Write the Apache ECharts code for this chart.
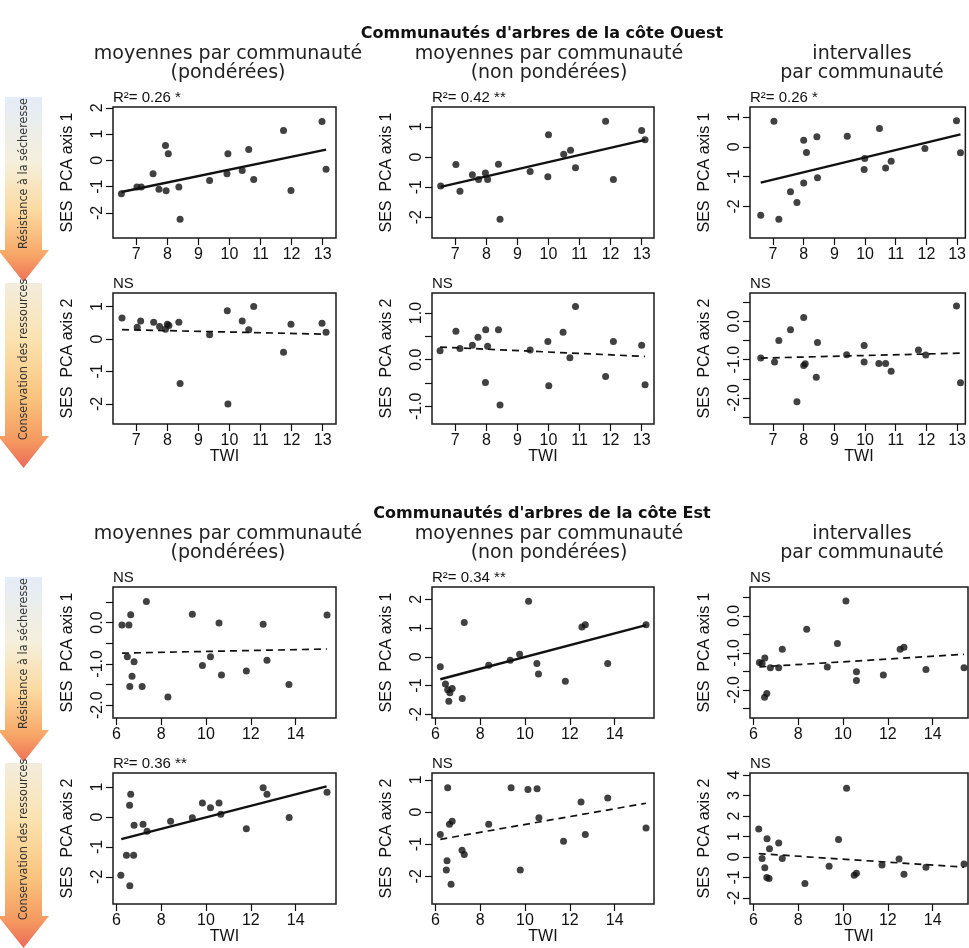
<!DOCTYPE html>
<html><head><meta charset="utf-8">
<script src="https://cdn.jsdelivr.net/npm/echarts@6/dist/echarts.min.js"></script>
<style>html,body{margin:0;padding:0;background:#fff}#c{width:969px;height:948px}</style>
</head><body><div id="c"></div><script>
// ---------- DATA ----------
const westTicksX = [7, 8, 9, 10, 11, 12, 13];
const eastTicksX = [6, 8, 10, 12, 14];

// West coast, axis 1
const w1 = [[6.52,-1.27],[7.02,-1.01],[7.16,-1.01],[7.54,-0.51],[7.73,-1.10],[7.94,0.57],[7.96,-1.15],[8.03,0.25],[8.37,-1.01],[8.41,-2.24],[9.36,-0.76],[9.95,0.25],[9.92,-0.51],[10.41,-0.38],[10.62,0.41],[10.78,-0.73],[11.74,1.14],[11.98,-1.14],[12.98,1.48],[13.11,-0.34]];
const w2 = [[6.53,-0.96],[7.02,-0.25],[7.15,-1.14],[7.55,-0.59],[7.75,-0.75],[7.97,-0.53],[8.04,-0.75],[8.39,-0.24],[8.44,-2.07],[9.41,-0.48],[10.0,0.74],[9.98,-0.66],[10.49,0.09],[10.71,0.22],[10.87,-0.36],[11.84,1.19],[12.09,-0.75],[13.0,0.88],[13.11,0.57]];
const w3 = [[6.6,-2.3],[7.03,0.86],[7.19,-2.43],[7.57,-1.51],[7.78,-1.87],[8.0,0.22],[8.09,-0.19],[8.0,-1.21],[8.43,0.34],[8.45,-1.04],[9.42,0.36],[9.99,-0.39],[9.97,-0.76],[10.47,0.62],[10.67,-0.71],[10.85,-0.48],[11.95,-0.05],[12.98,0.88],[13.11,-0.2]];
// West coast, axis 2
const w4 = [[6.54,0.65],[7.03,0.36],[7.14,0.56],[7.56,0.52],[7.75,0.39],[7.94,0.30],[8.0,0.46],[8.05,0.42],[8.37,0.52],[8.41,-1.37],[9.36,0.13],[9.93,0.87],[9.95,-2.0],[10.41,0.56],[10.62,0.29],[10.78,1.0],[11.74,-0.41],[11.98,0.46],[12.98,0.49],[13.11,0.21]];
const w5 = [[6.51,0.19],[7.02,0.61],[7.15,0.24],[7.55,0.31],[7.73,0.48],[7.98,0.64],[8.04,0.29],[8.39,0.64],[7.97,-0.49],[8.44,-0.97],[9.41,0.21],[9.98,0.39],[10.01,-0.56],[10.47,0.59],[10.69,0.04],[10.87,1.14],[11.84,-0.36],[12.09,0.39],[13.0,0.31],[13.11,-0.54]];
const w6 = [[6.6,-0.96],[7.05,-1.06],[7.19,-0.5],[7.57,-0.22],[7.78,-2.1],[8.0,0.1],[8.05,-1.11],[8.0,-1.15],[8.45,-0.55],[8.41,-1.46],[9.4,-0.87],[9.97,-0.63],[9.97,-1.06],[10.45,-1.1],[10.67,-1.1],[10.85,-1.3],[11.74,-0.75],[11.98,-0.88],[12.98,0.4],[13.11,-1.6]];
// East coast, axis 1
const e1 = [[6.25,-0.06],[6.56,-0.06],[6.64,0.19],[7.34,0.51],[6.49,-0.83],[6.79,-0.95],[6.7,-1.3],[6.6,-1.55],[7.15,-1.55],[8.3,-1.8],[9.39,0.2],[9.84,-1.04],[10.2,-0.83],[10.58,-0.01],[10.69,-1.27],[11.8,-1.17],[12.55,-0.04],[12.72,-0.91],[13.7,-1.5],[15.4,0.18]];
const e2 = [[6.22,-0.35],[7.29,1.19],[10.16,1.93],[8.38,-0.29],[9.34,-0.12],[9.76,0.09],[10.53,-0.23],[10.6,-0.6],[12.54,1.04],[12.69,1.12],[13.69,-0.23],[6.45,-0.95],[6.55,-1.15],[6.65,-1.25],[6.6,-1.55],[6.75,-1.1],[7.2,-1.45],[11.8,-0.85],[15.4,1.12]];
const e3 = [[6.27,-1.26],[6.39,-1.29],[6.51,-1.14],[6.76,-1.4],[7.13,-1.4],[7.29,-0.9],[8.38,-0.36],[9.3,-1.38],[9.75,-0.75],[10.13,0.4],[10.6,-1.51],[6.5,-2.2],[6.6,-2.1],[10.6,-1.75],[11.8,-1.6],[12.55,-0.9],[12.72,-0.85],[13.7,-1.45],[15.4,-1.4]];
// East coast, axis 2
const e4 = [[6.64,0.76],[6.59,0.39],[6.79,-0.28],[7.19,-0.24],[7.37,-0.48],[6.45,-1.28],[6.77,-1.28],[8.42,-0.14],[9.39,-0.03],[9.84,0.47],[10.2,0.31],[10.58,0.47],[10.66,0.09],[11.8,-0.39],[12.55,0.98],[12.72,0.76],[13.71,-0.02],[15.4,0.83],[6.2,-1.95],[6.6,-2.3]];
const e5 = [[6.22,-0.7],[6.55,0.75],[6.63,-0.38],[6.75,-0.29],[6.52,-1.52],[6.49,-1.8],[7.19,-1.19],[7.29,-1.32],[8.38,-0.38],[9.38,0.75],[10.13,0.7],[10.54,0.72],[10.62,-0.18],[9.79,-1.8],[11.72,-0.91],[12.5,0.31],[12.69,-0.7],[13.69,0.43],[15.4,-0.5],[6.7,-2.25]];
const e6 = [[6.24,1.37],[6.61,0.89],[6.72,0.4],[7.13,0.68],[6.39,-0.08],[6.51,-0.53],[7.29,-0.08],[10.16,3.35],[9.8,0.85],[9.38,-0.45],[11.74,-0.4],[6.6,-1.0],[6.7,-1.05],[8.3,-1.3],[10.6,-0.8],[10.5,-0.9],[12.5,-0.1],[12.72,-0.85],[13.7,-0.5],[15.4,-0.35]];

// fitted regression lines (end points)
const fits = [
  [[6.52,-1.2],[13.11,0.41]], [[6.53,-0.99],[13.11,0.57]], [[6.6,-1.2],[13.11,0.42]],
  [[6.54,0.29],[13.11,0.15]], [[6.51,0.27],[13.11,0.07]], [[6.6,-0.96],[13.11,-0.83]],
  [[6.25,-0.74],[15.4,-0.64]], [[6.22,-0.78],[15.4,1.1]], [[6.27,-1.38],[15.4,-1.04]],
  [[6.22,-0.74],[15.38,1.02]], [[6.22,-0.85],[15.4,0.27]], [[6.24,0.16],[15.4,-0.5]]
];
const sigLabels = ['R\u00b2= 0.26 *','R\u00b2= 0.42 **','R\u00b2= 0.26 *','NS','NS','NS','NS','R\u00b2= 0.34 **','NS','R\u00b2= 0.36 **','NS','NS'];

// y tick values and labelled values per panel
const yTicks = [[-2,-1,0,1,2],[-2,-1,0,1],[-2,-1,0,1],[-2,-1,0,1],[-1,-0.5,0,0.5,1],[-2.5,-2,-1.5,-1,-0.5,0,0.5],
                [-2,-1.5,-1,-0.5,0,0.5],[-2,-1,0,1,2],[-2.5,-2,-1.5,-1,-0.5,0,0.5],[-2,-1,0,1],[-2,-1,0,1],[-2,-1,0,1,2,3,4]];
const yLabels = [[-2,-1,0,1,2],[-2,-1,0,1],[-2,-1,0,1],[-2,-1,0,1],[-1,0,1],[-2,-1,0],
                 [-2,-1,0],[-2,-1,0,1,2],[-2,-1,0],[-2,-1,0,1],[-2,-1,0,1],[-2,-1,0,1,2,3,4]];
const yDecimals = [0,0,0,0,1,1,1,0,1,0,0,0];
const yLabelTexts = ['SES  PCA axis 1','SES  PCA axis 2'];
const titles = ["Communaut\u00e9s d'arbres de la c\u00f4te Ouest", "Communaut\u00e9s d'arbres de la c\u00f4te Est"];
const headers = [['moyennes par communaut\u00e9','(pond\u00e9r\u00e9es)'],['moyennes par communaut\u00e9','(non pond\u00e9r\u00e9es)'],['intervalles','par communaut\u00e9']];
const arrowTexts = ['R\u00e9sistance \u00e0 la s\u00e9cheresse','Conservation des ressources'];
const xTitle = 'TWI';

const panels = [w1,w2,w3,w4,w5,w6,e1,e2,e3,e4,e5,e6];

// ---------- LAYOUT ----------
const colLeft = [113, 432, 750];
const colWidth = [223, 222, 218];
const rowTop = [107, 293, 587, 773];
const rowH = 131;
const yRange = [[-2.95,2.03],[-2.69,1.66],[-3.06,1.34],[-2.62,1.42],[-1.38,1.43],[-2.68,0.74],
                [-2.31,0.86],[-2.13,2.43],[-2.76,0.78],[-2.91,1.47],[-2.86,1.21],[-2.3,4.1]];
const westMin = 6.25, westUnit = 223/(13.43-6.25);
const eastMin = 5.85, eastUnit = 223/(15.8-5.85);

const FONT = "'Liberation Sans', Arial, sans-serif";
const ink = '#111';
const grid = [], xAxis = [], yAxis = [], series = [], graphic = [];

for (let p = 0; p < 12; p++) {
  const r = Math.floor(p/3), c = p%3;
  const east = r >= 2;
  const left = colLeft[c], top = rowTop[r], w = colWidth[c];
  grid.push({left: left, top: top, width: w, height: rowH, show: true, borderColor: '#1a1a1a', borderWidth: 1.5, containLabel: false});
  const xmin = east ? eastMin : westMin;
  const xmax = xmin + w/(east ? eastUnit : westUnit);
  xAxis.push({type:'value', gridIndex:p, min:xmin, max:xmax, position:'bottom',
    axisLine:{show:false, onZero:false}, splitLine:{show:false},
    axisTick:{show:true, length:7, lineStyle:{color:ink, width:1.2}, customValues: east ? eastTicksX : westTicksX},
    axisLabel:{customValues: east ? eastTicksX : westTicksX, fontSize:16, fontFamily:FONT, color:ink, margin:9}
  });
  const dec = yDecimals[p];
  yAxis.push({type:'value', gridIndex:p, min:yRange[p][0], max:yRange[p][1], position:'left',
    axisLine:{show:false, onZero:false}, splitLine:{show:false},
    axisTick:{show:true, length:7, lineStyle:{color:ink, width:1.2}, customValues: yTicks[p]},
    axisLabel:{customValues: yLabels[p], rotate:90, fontSize:16, fontFamily:FONT, color:ink, margin:7,
      formatter: v => (dec ? Number(v).toFixed(1) : String(Math.round(v))).replace('\u2212','-')}
  });
  series.push({type:'scatter', xAxisIndex:p, yAxisIndex:p, data:panels[p], symbolSize:7,
    itemStyle:{color:ink}, silent:true, animation:false, z:3});
  const sig = sigLabels[p] !== 'NS';
  series.push({type:'line', xAxisIndex:p, yAxisIndex:p, data:fits[p], showSymbol:false, silent:true, animation:false,
    lineStyle:{color:ink, width: sig ? 2.4 : 1.7, type: sig ? 'solid' : [7,5]}, z:2});
  // significance label
  graphic.push({type:'text', x:left, y:top-9, style:{text:sigLabels[p], font:'15px '+FONT, fill:ink, align:'left', verticalAlign:'middle'}});
  // y axis title
  graphic.push({type:'text', x:left-45, y:top+rowH/2, rotation:Math.PI/2,
    style:{text:yLabelTexts[r%2], font:'16px '+FONT, fill:ink, align:'center', verticalAlign:'middle'}});
  // x axis title on axis-2 rows
  if (r%2 === 1) {
    graphic.push({type:'text', x:left+w/2, y:top+rowH+33, style:{text:xTitle, font:'16px '+FONT, fill:ink, align:'center', verticalAlign:'middle'}});
  }
}

// titles and column headers
const blockTop = [rowTop[0], rowTop[2]];
const headerX = [228, 549, 862];
for (let b = 0; b < 2; b++) {
  const t = blockTop[b];
  graphic.push({type:'text', x:542, y:t-73, style:{text:titles[b], font:"bold 16px 'DejaVu Sans', sans-serif", fill:ink, align:'center', verticalAlign:'middle'}});
  for (let c = 0; c < 3; c++) {
    graphic.push({type:'text', x:headerX[c], y:t-53, style:{text:headers[c][0], font:"19px 'DejaVu Sans', sans-serif", fill:'#222', align:'center', verticalAlign:'middle'}});
    graphic.push({type:'text', x:headerX[c], y:t-34, style:{text:headers[c][1], font:"19px 'DejaVu Sans', sans-serif", fill:'#222', align:'center', verticalAlign:'middle'}});
  }
}

// side arrows
for (let r = 0; r < 4; r++) {
  const t = rowTop[r] - 10, b = rowTop[r] + rowH + 12, tip = b + 32;
  const stops = (r%2 === 0)
    ? [{offset:0,color:'#e4ecf8'},{offset:0.35,color:'#f5f0dc'},{offset:0.62,color:'#fcd9a0'},{offset:0.85,color:'#f7a867'},{offset:1,color:'#ee7058'}]
    : [{offset:0,color:'#f3ecdd'},{offset:0.3,color:'#fbe3b0'},{offset:0.62,color:'#f9c47e'},{offset:0.85,color:'#f59a60'},{offset:1,color:'#ec6a58'}];
  graphic.push({type:'polygon', shape:{points:[[5,t],[42,t],[42,b],[49,b],[23.5,tip],[-2,b],[5,b]]},
    style:{fill:{type:'linear', x:0, y:0, x2:0, y2:1, colorStops:stops}, stroke:null}, z:0});
  graphic.push({type:'text', x:23.5, y:(t+b)/2, rotation:Math.PI/2,
    style:{text:arrowTexts[r%2], font:"12.5px 'Liberation Sans Narrow', 'DejaVu Sans Condensed', sans-serif", fill:'#333', align:'center', verticalAlign:'middle'}, z:1});
}

const chart = echarts.init(document.getElementById('c'), null, {renderer:'canvas'});
chart.setOption({animation:false, backgroundColor:'#fff', grid, xAxis, yAxis, series, graphic});
</script></body></html>
